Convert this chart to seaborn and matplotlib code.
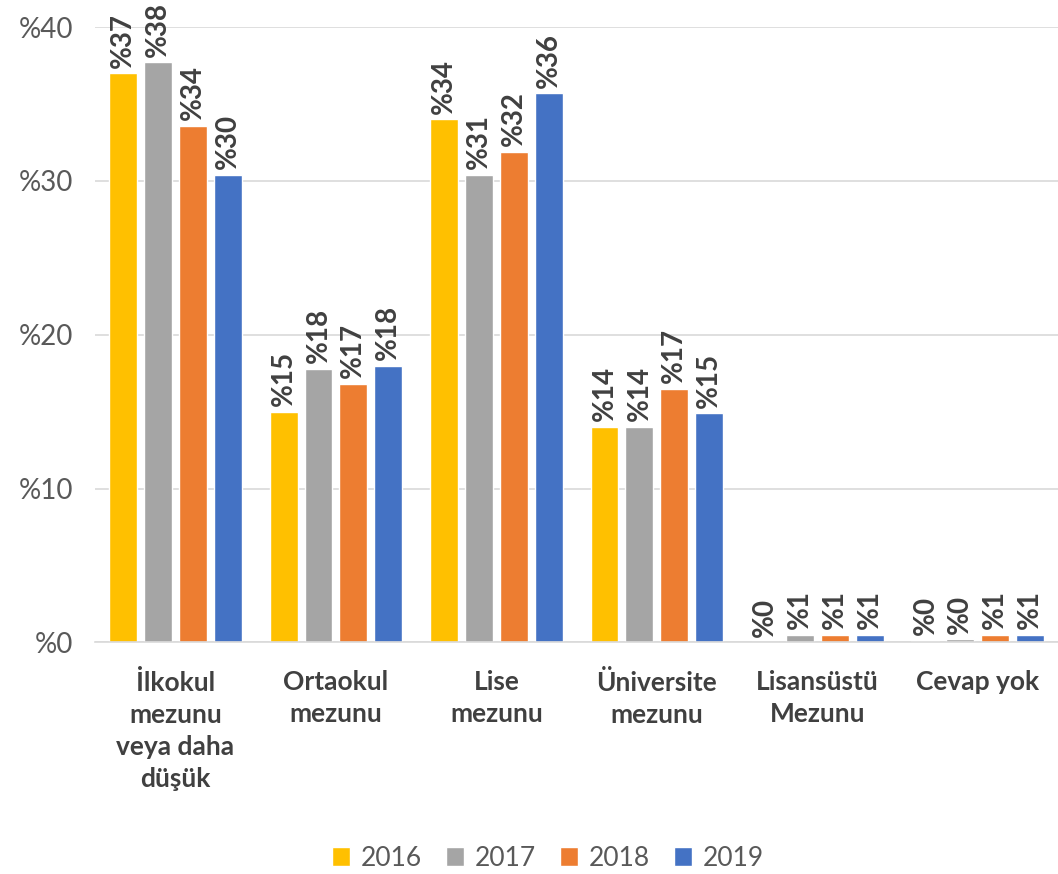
import pandas as pd
import matplotlib.pyplot as plt
import seaborn as sns

# categories and values (percent)
categories = ["İlkokul\nmezunu\nveya daha\ndüşük", "Ortaokul\nmezunu", "Lise\nmezunu",
              "Üniversite\nmezunu", "Lisansüstü\nMezunu", "Cevap yok"]
years = ["2016", "2017", "2018", "2019"]
v2016 = [37.0, 15.0, 34.0, 14.0, 0.0, 0.1]
v2017 = [37.7, 17.8, 30.4, 14.0, 0.5, 0.2]
v2018 = [33.6, 16.8, 31.9, 16.5, 0.5, 0.5]
v2019 = [30.4, 18.0, 35.7, 14.9, 0.5, 0.5]
labels2016 = ["%37", "%15", "%34", "%14", "%0", "%0"]
labels2017 = ["%38", "%18", "%31", "%14", "%1", "%0"]
labels2018 = ["%34", "%17", "%32", "%17", "%1", "%1"]
labels2019 = ["%30", "%18", "%36", "%15", "%1", "%1"]
colors = ["#FFC000", "#A5A5A5", "#ED7D31", "#4472C4"]

rows = []
for y, vals in zip(years, [v2016, v2017, v2018, v2019]):
    for c, v in zip(categories, vals):
        rows.append({"Kategori": c, "Yıl": y, "Oran": v})
df = pd.DataFrame(rows)

sns.set_style("white")
plt.rcParams['font.family'] = ['Lato', 'DejaVu Sans']

fig = plt.figure(figsize=(10.58, 8.74), dpi=100)
ax = fig.add_axes([0.09, 0.265, 0.91, 0.704])

sns.barplot(data=df, x="Kategori", y="Oran", hue="Yıl", palette=colors,
            saturation=1, width=0.87, gap=0.2, ax=ax, legend=True)

for cont, labs in zip(ax.containers, [labels2016, labels2017, labels2018, labels2019]):
    ax.bar_label(cont, labels=labs, rotation=90, padding=4, fontsize=20,
                 fontweight='bold', color='#404040')

ax.set_ylim(0, 40)
ax.set_yticks([0, 10, 20, 30, 40])
ax.set_yticklabels(["%0", "%10", "%20", "%30", "%40"], fontsize=20, color='#595959')
ax.yaxis.grid(True, color='#D9D9D9', linewidth=1.2)
ax.set_axisbelow(True)
ax.tick_params(axis='both', length=0)
ax.tick_params(axis='y', pad=16)
ax.tick_params(axis='x', pad=20)
for lab in ax.get_xticklabels():
    lab.set_fontsize(19)
    lab.set_fontweight('bold')
    lab.set_color('#404040')
    lab.set_linespacing(1.4)
ax.set_xlabel("")
ax.set_ylabel("")
for s in ["top", "right", "left"]:
    ax.spines[s].set_visible(False)
ax.spines["bottom"].set_color('#D9D9D9')
ax.spines["bottom"].set_linewidth(1.2)

ax.legend(loc='lower center', bbox_to_anchor=(0.47, -0.41), ncol=4, frameon=False,
          fontsize=19, handlelength=0.7, handleheight=0.7, columnspacing=0.9,
          handletextpad=0.4, labelcolor='#595959')

fig.savefig("out.png", dpi=100)
